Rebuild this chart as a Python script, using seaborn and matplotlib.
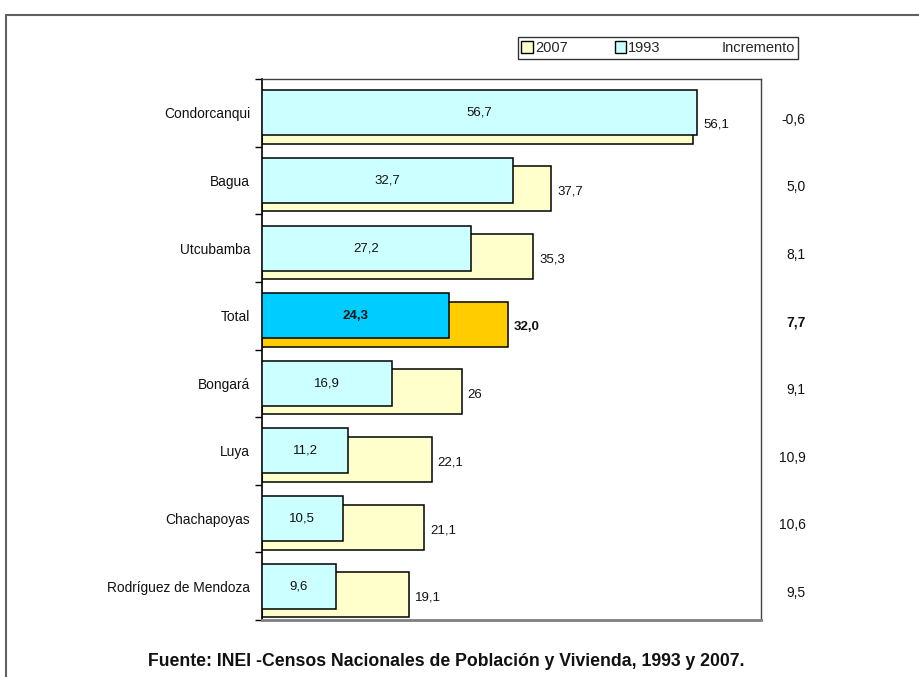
import matplotlib
matplotlib.use('Agg')
import matplotlib.pyplot as plt
import seaborn as sns
import pandas as pd
from matplotlib.patches import Patch
from matplotlib.lines import Line2D

# datos
provincias = ['Condorcanqui', 'Bagua', 'Utcubamba', 'Total', 'Bongará', 'Luya',
              'Chachapoyas', 'Rodríguez de Mendoza']
v1993 = [56.7, 32.7, 27.2, 24.3, 16.9, 11.2, 10.5, 9.6]
v2007 = [56.1, 37.7, 35.3, 32.0, 26.0, 22.1, 21.1, 19.1]
etiq_1993 = ['56,7', '32,7', '27,2', '24,3', '16,9', '11,2', '10,5', '9,6']
etiq_2007 = ['56,1', '37,7', '35,3', '32,0', '26', '22,1', '21,1', '19,1']
incremento = ['-0,6', '5,0', '8,1', '7,7', '9,1', '10,9', '10,6', '9,5']

REG = ['Liberation Sans', 'DejaVu Sans']

pal_1993 = {p: ('#00CCFF' if p == 'Total' else '#CCFFFF') for p in provincias}
pal_2007 = {p: ('#FFCC00' if p == 'Total' else '#FFFFCC') for p in provincias}

sns.set_style('white')
plt.rcParams['font.family'] = REG

df = pd.DataFrame({'provincia': provincias, 'v1993': v1993, 'v2007': v2007})

fig = plt.figure(figsize=(9.19, 6.77), dpi=100)
ax = fig.add_axes([262 / 919, 1 - 620 / 677, (761 - 262) / 919, (620 - 79) / 677])

sns.barplot(data=df, x='v2007', y='provincia', hue='provincia', palette=pal_2007,
            orient='h', width=0.665, edgecolor='black', linewidth=1.1,
            saturation=1, legend=False, ax=ax)
n_yel = len(ax.patches)
for p in ax.patches:
    p.set_y(p.get_y() + 0.126)
    p.set_zorder(2)

sns.barplot(data=df, x='v1993', y='provincia', hue='provincia', palette=pal_1993,
            orient='h', width=0.665, edgecolor='black', linewidth=1.1,
            saturation=1, legend=False, ax=ax)
for p in ax.patches[n_yel:]:
    p.set_zorder(3)

ax.set_xlim(0, 65)
ax.set_ylim(7.5, -0.5)
ax.set_xlabel('')
ax.set_ylabel('')
ax.set_xticks([])
ax.set_yticks(range(len(provincias)))
ax.set_yticklabels(provincias, fontsize=9.9, color='#111111')
ax.set_yticks([i - 0.5 for i in range(len(provincias) + 1)], minor=True)
ax.tick_params(axis='y', which='major', length=0, pad=8.5)
ax.tick_params(axis='y', which='minor', left=True, length=5, width=1, color='black')

for s in ['top', 'right']:
    ax.spines[s].set_color('#404040')
    ax.spines[s].set_linewidth(1)
ax.spines['left'].set_color('black')
ax.spines['left'].set_linewidth(1.2)
ax.spines['bottom'].set_color('#808080')
ax.spines['bottom'].set_linewidth(2)

for i, p in enumerate(provincias):
    bold = 'bold' if p == 'Total' else 'normal'
    ax.text(v1993[i] / 2, i, etiq_1993[i], ha='center', va='center',
            fontsize=9.5, fontweight=bold, color='#111111', zorder=5)
    ax.text(max(v1993[i], v2007[i]) + 0.8, i + 0.17, etiq_2007[i], ha='left', va='center',
            fontsize=9.5, fontweight=bold, color='#111111', zorder=5)
    ax.text(70.8, i + 0.1, incremento[i], ha='right', va='center',
            fontsize=10, fontweight=bold, color='#111111', clip_on=False)

handles = [Patch(facecolor='#FFFFCC', edgecolor='black', linewidth=1),
           Patch(facecolor='#CCFFFF', edgecolor='black', linewidth=1),
           Patch(facecolor='none', edgecolor='none')]
leg = fig.legend(handles, ['2007', '1993', 'Incremento'], ncol=3,
                 loc='center', bbox_to_anchor=(658 / 919, 1 - 48 / 677),
                 frameon=True, fancybox=False, edgecolor='black',
                 handlelength=0.8, handleheight=0.8, handletextpad=0.15,
                 columnspacing=3.2, borderpad=0.25, prop={'size': 10.5})
leg.get_frame().set_linewidth(1)

# marco exterior
fig.add_artist(Line2D([6 / 919, 6 / 919], [0, 1 - 15 / 677], transform=fig.transFigure,
                      color='#606060', linewidth=1.5))
fig.add_artist(Line2D([6 / 919, 1], [1 - 15 / 677, 1 - 15 / 677], transform=fig.transFigure,
                      color='#606060', linewidth=1.5))

fig.text(148 / 919, 1 - 661 / 677,
         'Fuente: INEI -Censos Nacionales de Población y Vivienda, 1993 y 2007.',
         ha='left', va='center', fontsize=12.7, fontweight='bold', color='#111111')

fig.savefig('out.png', dpi=100)
